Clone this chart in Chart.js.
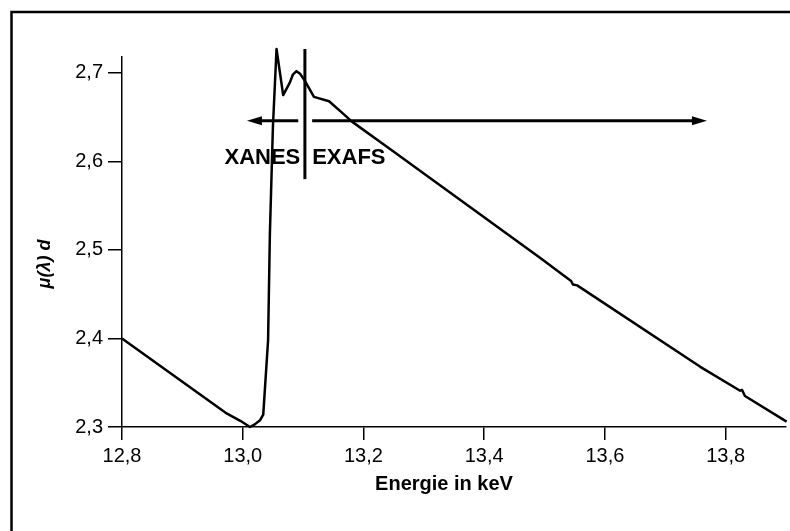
<!DOCTYPE html>
<html>
<head>
<meta charset="utf-8">
<title>XANES / EXAFS</title>
<script src="https://cdn.jsdelivr.net/npm/chart.js@4"></script>
<style>
  html, body { margin: 0; padding: 0; background: #fff; }
  #chart { display: block; }
</style>
</head>
<body>
<canvas id="chart" width="790" height="531"></canvas>
<script>
// absorption curve
const energy = [12.800, 12.974, 12.996, 13.012, 13.020, 13.029, 13.034, 13.042, 13.045, 13.050, 13.056,
  13.067, 13.078, 13.083, 13.089, 13.095, 13.103, 13.118, 13.143, 13.163, 13.181, 13.244, 13.493,
  13.534, 13.544, 13.547, 13.554, 13.758, 13.824, 13.827, 13.832, 13.901];
const mu = [2.400, 2.315, 2.307, 2.300, 2.303, 2.308, 2.314, 2.398, 2.519, 2.639, 2.727,
  2.675, 2.689, 2.698, 2.702, 2.699, 2.691, 2.673, 2.668, 2.656, 2.645, 2.614, 2.491,
  2.470, 2.465, 2.461, 2.460, 2.368, 2.341, 2.342, 2.335, 2.306];

const xTicks = [12.8, 13.0, 13.2, 13.4, 13.6, 13.8];
const yTicks = [2.3, 2.4, 2.5, 2.6, 2.7];
const xRange = [12.8, 13.9];
const yRange = [2.3, 2.718];

// XANES / EXAFS markers (data units)
const edgeEnergy = 13.103;
const dividerSpan = [2.580, 2.727];
const arrowLevel = 2.646;
const xanesArrow = [13.092, 13.007];
const exafsArrow = [13.115, 13.769];
const labelLevel = 2.604;

const fontFamily = "'Liberation Sans', Arial, Helvetica, sans-serif";
const comma = v => v.toFixed(1).replace('.', ',');

function drawArrow(ctx, x0, x1, yy) {
  const dir = Math.sign(x1 - x0);
  ctx.beginPath();
  ctx.moveTo(x0, yy);
  ctx.lineTo(x1 - dir * 12, yy);
  ctx.stroke();
  ctx.beginPath();
  ctx.moveTo(x1, yy);
  ctx.lineTo(x1 - dir * 15, yy - 4.5);
  ctx.lineTo(x1 - dir * 15, yy + 4.5);
  ctx.closePath();
  ctx.fill();
}

const frameAndNotes = {
  id: 'frameAndNotes',
  beforeDraw(chart) {
    const ctx = chart.ctx;
    ctx.save();
    ctx.strokeStyle = '#000';
    ctx.lineWidth = 2.5;
    ctx.strokeRect(11.5, 12, chart.width + 20, chart.height + 20);
    ctx.restore();
  },
  afterDraw(chart) {
    const { ctx, chartArea, scales: { x, y } } = chart;
    ctx.save();
    ctx.strokeStyle = '#000';
    ctx.fillStyle = '#000';

    // split line
    ctx.lineWidth = 3;
    const ex = x.getPixelForValue(edgeEnergy);
    ctx.beginPath();
    ctx.moveTo(ex, y.getPixelForValue(dividerSpan[0]));
    ctx.lineTo(ex, y.getPixelForValue(dividerSpan[1]));
    ctx.stroke();

    // arrows
    const ay = y.getPixelForValue(arrowLevel);
    drawArrow(ctx, x.getPixelForValue(xanesArrow[0]), x.getPixelForValue(xanesArrow[1]), ay);
    drawArrow(ctx, x.getPixelForValue(exafsArrow[0]), x.getPixelForValue(exafsArrow[1]), ay);

    // labels
    ctx.font = 'bold 22px ' + fontFamily;
    ctx.textBaseline = 'middle';
    const ly = y.getPixelForValue(labelLevel);
    ctx.textAlign = 'right';
    ctx.fillText('XANES', x.getPixelForValue(xanesArrow[0]) + 2, ly);
    ctx.textAlign = 'left';
    ctx.fillText('EXAFS', x.getPixelForValue(exafsArrow[0]), ly);

    // axis titles
    ctx.font = 'bold 20px ' + fontFamily;
    ctx.textAlign = 'center';
    ctx.fillText('Energie in keV', (chartArea.left + chartArea.right) / 2 - 10, chartArea.bottom + 57);

    ctx.translate(45, (chartArea.top + chartArea.bottom) / 2 + 22);
    ctx.rotate(-Math.PI / 2);
    ctx.font = 'italic bold 18px ' + fontFamily;
    ctx.fillText('\u03bc(\u03bb) d', 0, 0);
    ctx.restore();
  }
};

const ctx = document.getElementById('chart').getContext('2d');
const chart = new Chart(ctx, {
  type: 'line',
  data: {
    datasets: [{
      data: energy.map((e, i) => ({ x: e, y: mu[i] })),
      borderColor: '#000',
      borderWidth: 2.5,
      borderJoinStyle: 'round',
      pointRadius: 0,
      tension: 0,
      clip: false
    }]
  },
  options: {
    responsive: false,
    animation: false,
    layout: { padding: { top: 57, right: 4, bottom: 0, left: 0 } },
    plugins: {
      legend: { display: false },
      tooltip: { enabled: false }
    },
    scales: {
      x: {
        type: 'linear',
        min: xRange[0],
        max: xRange[1],
        afterBuildTicks: s => { s.ticks = xTicks.map(v => ({ value: v })); },
        afterFit: s => { s.height = 104; },
        border: { color: '#000', width: 1.5 },
        grid: { drawOnChartArea: false, color: '#000', lineWidth: 1.5, tickLength: 13 },
        ticks: {
          color: '#000',
          padding: 4,
          maxRotation: 0,
          font: { family: fontFamily, size: 20 },
          callback: v => comma(v)
        }
      },
      y: {
        type: 'linear',
        min: yRange[0],
        max: yRange[1],
        afterBuildTicks: s => { s.ticks = yTicks.map(v => ({ value: v })); },
        afterFit: s => { s.width = 122; },
        border: { color: '#000', width: 1.5 },
        grid: { drawOnChartArea: false, color: '#000', lineWidth: 1.5, tickLength: 14 },
        ticks: {
          color: '#000',
          padding: 5,
          font: { family: fontFamily, size: 20 },
          callback: v => comma(v)
        }
      }
    }
  },
  plugins: [frameAndNotes]
});
</script>
</body>
</html>
